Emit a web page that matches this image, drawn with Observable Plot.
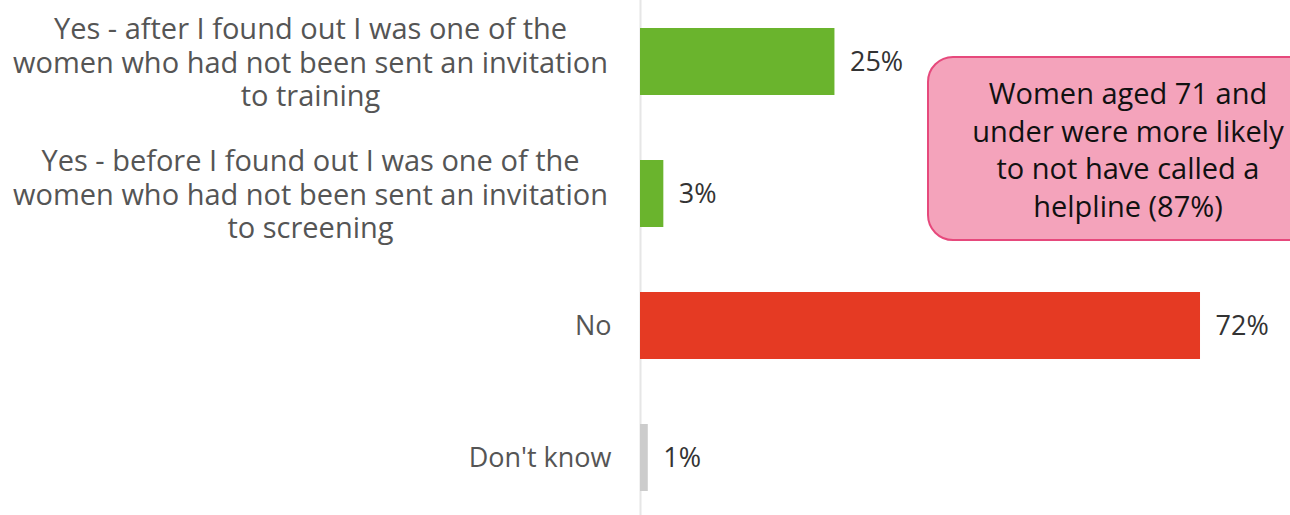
<!DOCTYPE html>
<html><head><meta charset="utf-8">
<script src="https://cdn.jsdelivr.net/npm/d3@7"></script>
<script src="https://cdn.jsdelivr.net/npm/@observablehq/plot@0.6"></script>
<style>
body{margin:0;background:#fff;}
#wrap{position:relative;width:1290px;height:515px;overflow:hidden;font-family:"Open Sans",sans-serif;}
#callout{position:absolute;left:927px;top:56px;width:402px;height:185px;box-sizing:border-box;background:#f4a3bb;border:2px solid #e6497c;border-radius:26px;color:#111;font-size:29px;line-height:37.5px;text-align:center;padding-top:16px;}
</style></head>
<body><div id="wrap"></div>
<script>
const categories = [
  "Yes - after I found out I was one of the\nwomen who had not been sent an invitation\nto training",
  "Yes - before I found out I was one of the\nwomen who had not been sent an invitation\nto screening",
  "No",
  "Don't know"
];
const values = [25, 3, 72, 1];
const colors = ["#6ab42d", "#6ab42d", "#e53a23", "#cccccc"];
const calloutLines = ["Women aged 71 and", "under were more likely", "to not have called a", "helpline (87%)"];

const data = categories.map((c, i) => ({category: c, value: values[i], color: colors[i], long: c.includes("\n")}));

const chart = Plot.plot({
  width: 1290,
  height: 515,
  marginLeft: 640,
  marginRight: 0,
  marginTop: 0,
  marginBottom: 0,
  style: {fontFamily: "'Open Sans', sans-serif", background: "#fff"},
  x: {domain: [0, 83.57], axis: null},
  y: {type: "band", domain: categories, range: [-4.5, 523.5], paddingInner: 0.49, paddingOuter: 0.245, axis: null},
  marks: [
    Plot.ruleX([0], {stroke: "#e6e6e6", strokeWidth: 2}),
    Plot.barX(data, {x: "value", y: "category", fill: "color"}),
    Plot.text(data, {x: "value", y: "category", text: d => d.value + "%", dx: 15, textAnchor: "start", fontSize: 27, fill: "#333"}),
    Plot.text(data.filter(d => d.long), {x: 0, y: "category", text: "category", dx: -330, textAnchor: "middle", fontSize: 29, lineHeight: 1.155, fill: "#555"}),
    Plot.text(data.filter(d => !d.long), {x: 0, y: "category", text: "category", dx: -29, textAnchor: "end", fontSize: 27, fill: "#555"})
  ]
});
const wrap = document.getElementById("wrap");
wrap.appendChild(chart);
const callout = document.createElement("div");
callout.id = "callout";
callout.innerHTML = calloutLines.join("<br>");
wrap.appendChild(callout);
</script>
</body></html>
